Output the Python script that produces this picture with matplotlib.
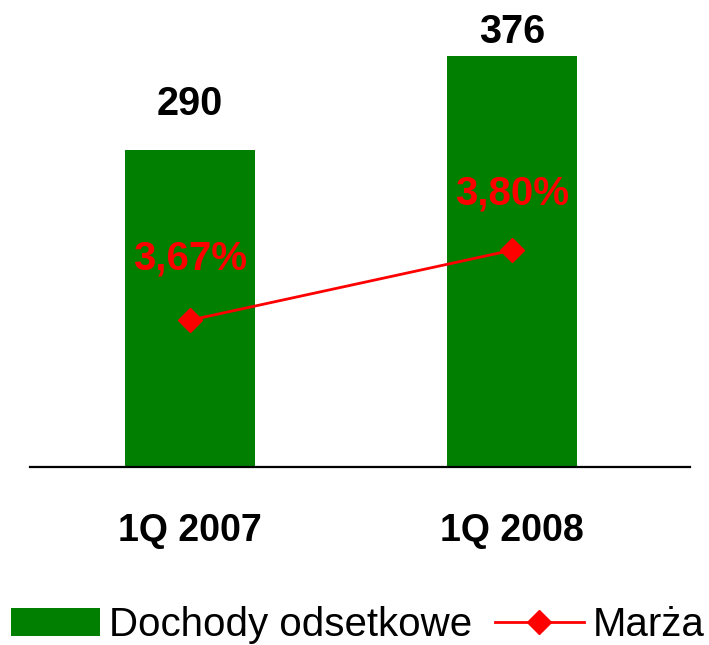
import matplotlib.pyplot as plt
import numpy as np

# data
periods = ['1Q 2007', '1Q 2008']
income = [290, 376]            # Dochody odsetkowe
margin = [3.67, 3.80]          # Marża, %
income_labels = ['290', '376']
margin_labels = ['3,67%', '3,80%']

plt.rcParams['font.family'] = ['Liberation Sans', 'DejaVu Sans']

fig = plt.figure(figsize=(7.09, 6.45), dpi=100)
ax = fig.add_axes([30 / 709, 178 / 645, 660 / 709, 447 / 645])
ax2 = ax.twinx()

x = np.arange(len(periods))
bars = ax.bar(x, income, width=0.404, color='#007F00', label='Dochody odsetkowe', zorder=2)
line, = ax2.plot(x, margin, color='#FF0000', lw=2, marker='D', ms=12,
                 label='Marża', zorder=3)

ax.set_xlim(-0.497, 1.553)
ax.set_ylim(0, 409)
ax2.set_ylim(3.397, 4.228)

# value labels above bars (second one is squeezed against the top)
for xi, v, lab, off in zip(x, income, income_labels, [46, 24]):
    ax.annotate(lab, (xi, v), xytext=(0, off * 0.72), textcoords='offset points',
                ha='center', va='center', fontsize=28.5, fontweight='bold', color='black')

for xi, m, lab, off in zip(x, margin, margin_labels, [62, 57]):
    ax2.annotate(lab, (xi, m), xytext=(0, off * 0.72), textcoords='offset points',
                 ha='center', va='center', fontsize=29, fontweight='bold', color='#FF0000')

for a in (ax, ax2):
    for s in ('top', 'left', 'right'):
        a.spines[s].set_visible(False)
    a.set_yticks([])
ax2.spines['bottom'].set_visible(False)
ax.spines['bottom'].set_linewidth(1.6)
ax.spines['bottom'].set_color('black')

ax.set_xticks(x)
ax.set_xticklabels(periods, fontsize=27, fontweight='bold')
ax.tick_params(axis='x', length=0, pad=33)

fig.legend(handles=[bars, line], loc='center', bbox_to_anchor=(0.505, 1 - 625 / 645),
           ncol=2, frameon=False, fontsize=29, handlelength=2.2, handletextpad=0.23,
           columnspacing=0.57, borderaxespad=0)

fig.savefig('out.png', dpi=100)
